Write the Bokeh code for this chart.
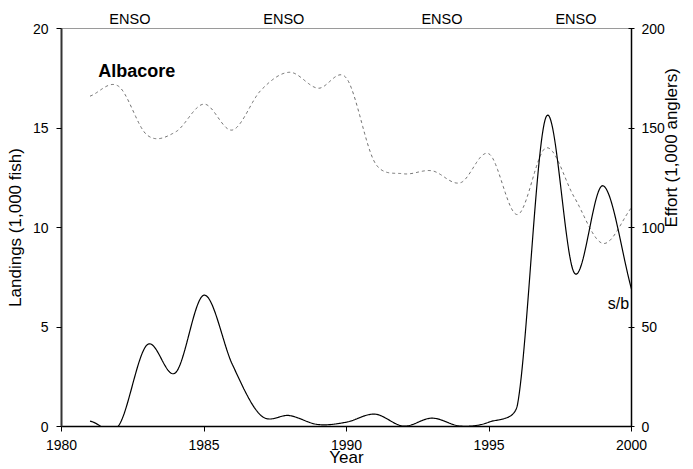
import math
import numpy as np
from bokeh.plotting import figure
from bokeh.models import Range1d, LinearAxis, Label, FixedTicker, CustomJSTickFormatter
from bokeh.embed import file_html
from bokeh.resources import INLINE

# ---- data ----
years = list(range(1981, 2001))
landings = [0.27, 0.03, 4.1, 2.7, 6.6, 3.1, 0.55, 0.55, 0.1, 0.22,
            0.62, 0.02, 0.42, 0.02, 0.22, 1.1, 15.55, 7.7, 12.1, 6.9]
effort = [166, 171, 146.5, 148, 162, 149, 169, 178, 170, 175,
          132.5, 127, 128.5, 122.5, 137, 106.5, 140, 115, 92, 110]
x_ticks = [1980, 1985, 1990, 1995, 2000]
left_ticks = [0, 5, 10, 15, 20]
right_ticks = [0, 50, 100, 150, 200]
enso_years = [1982.4, 1987.8, 1993.35, 1998.05]
enso_text = "ENSO"
species = "Albacore"
series_tag = "s/b"

FONT = "Liberation Sans"

# frame size in px (for screen-space smoothing)
FW, FH = 573.0, 400.0


def smooth(xs, ys, sx, sy, n=30):
    P = np.column_stack([np.asarray(xs, float) * sx, np.asarray(ys, float) * sy])
    N = len(P)
    out = [P[0]]
    for i in range(N - 1):
        p1, p2 = P[i], P[i + 1]
        p0 = P[i - 1] if i > 0 else p1
        p3 = P[i + 2] if i + 2 < N else p2
        d12 = np.linalg.norm(p2 - p1)
        d02 = np.linalg.norm(p2 - p0)
        d13 = np.linalg.norm(p3 - p1)
        f1 = 1 / 6 if i > 0 else 1 / 3
        f2 = 1 / 6 if i + 2 < N else 1 / 3
        if d02 * f1 > d12 / 2:
            f1 = d12 / (2 * d02)
        if d13 * f2 > d12 / 2:
            f2 = d12 / (2 * d13)
        c1 = p1 + (p2 - p0) * f1
        c2 = p2 - (p3 - p1) * f2
        t = np.linspace(0, 1, n + 1)[1:, None]
        B = (1 - t) ** 3 * p1 + 3 * (1 - t) ** 2 * t * c1 + 3 * (1 - t) * t ** 2 * c2 + t ** 3 * p2
        out.extend(B)
    out = np.array(out)
    return out[:, 0] / sx, out[:, 1] / sy


sx = FW / (x_ticks[-1] - x_ticks[0])
lx, ly = smooth(years, landings, sx, FH / left_ticks[-1])
ex, ey = smooth(years, effort, sx, FH / right_ticks[-1])

p = figure(width=693, height=469,
           x_range=Range1d(x_ticks[0], x_ticks[-1]),
           y_range=Range1d(left_ticks[0], left_ticks[-1]),
           output_backend="svg", toolbar_location=None,
           min_border_left=61, min_border_right=59,
           min_border_top=28, min_border_bottom=41)
p.extra_y_ranges = {"effort": Range1d(right_ticks[0], right_ticks[-1])}
p.xgrid.visible = False
p.ygrid.visible = False
p.outline_line_color = "#9a9a9a"
p.outline_line_width = 1
p.background_fill_color = "white"
p.border_fill_color = "white"


def style_axis(ax, ticks, tin, tout, standoff):
    ax.ticker = FixedTicker(ticks=ticks)
    ax.minor_tick_line_color = None
    ax.major_tick_in = tin
    ax.major_tick_out = tout
    ax.major_tick_line_color = "black"
    ax.major_tick_line_width = 1
    ax.axis_line_color = "black"
    ax.axis_line_width = 1.5
    ax.major_label_text_font = FONT
    ax.major_label_text_font_size = "14px"
    ax.major_label_text_color = "black"
    ax.major_label_standoff = standoff
    ax.axis_label_text_font = FONT
    ax.axis_label_text_font_size = "17px"
    ax.axis_label_text_font_style = "normal"
    ax.axis_label_text_color = "black"


xa = p.xaxis[0]
style_axis(xa, x_ticks, 0, 5, 8)
xa.axis_label = "Year"
xa.axis_label_standoff = -5
xa.axis_label_text_line_height = 0.8

ya = p.yaxis[0]
style_axis(ya, left_ticks, 0, 5, 8)
ya.axis_line_color = "#333333"
ya.axis_line_width = 2
ya.axis_label = "Landings (1,000 fish)"
ya.axis_label_standoff = 5

rax = LinearAxis(y_range_name="effort")
style_axis(rax, right_ticks, 3, 3, 7)
rax.axis_label = "Effort (1,000 anglers)"
rax.axis_label_standoff = 4
rax.axis_label_text_baseline = "top"
rax.axis_label_text_align = "center"
rax.axis_label_text_line_height = 0.4
if "axis_label_orientation" in rax.properties():
    rax.axis_label_orientation = math.pi / 2
p.add_layout(rax, "right")

# ENSO markers along the top
top = LinearAxis(ticker=FixedTicker(ticks=enso_years),
                 formatter=CustomJSTickFormatter(code="return '%s';" % enso_text))
top.axis_line_color = None
top.major_tick_line_color = None
top.minor_tick_line_color = None
top.major_tick_in = 0
top.major_tick_out = 0
top.major_label_standoff = 2
top.major_label_text_font = FONT
top.major_label_text_font_size = "14.5px"
top.major_label_text_color = "black"
p.add_layout(top, "above")

p.line(ex, ey, y_range_name="effort", line_color="#6e6e6e", line_width=1,
       line_dash="3 3")
p.line(lx, ly, line_color="black", line_width=1.2)

p.add_layout(Label(x=x_ticks[0], y=17.865, x_offset=36.7, text=species,
                   text_font=FONT, text_font_size="18px", text_font_style="bold",
                   text_align="left", text_baseline="alphabetic", text_color="black"))

p.add_layout(Label(x=x_ticks[-1], y=6.2, x_offset=-2.3, text=series_tag,
                   text_font=FONT, text_font_size="16px", text_align="right",
                   text_baseline="alphabetic", text_color="black"))

open("out.html", "w").write(file_html(p, INLINE))
